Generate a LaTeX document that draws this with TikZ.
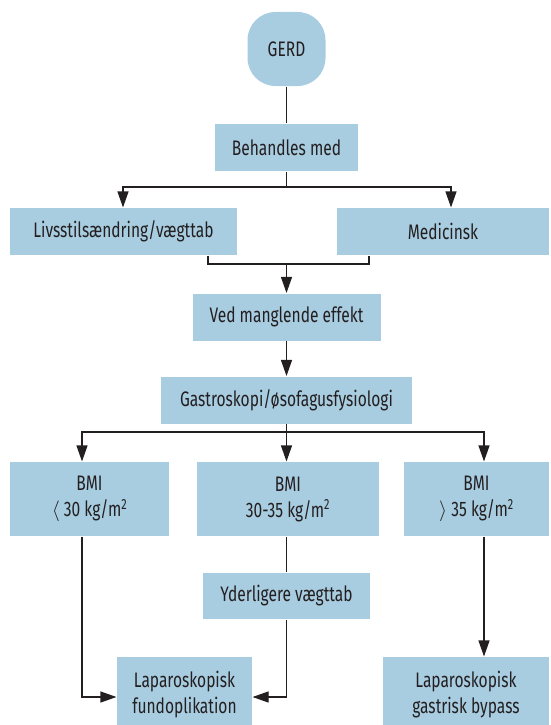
\documentclass[tikz,border=0pt]{standalone}
\usepackage{fontspec}
\setmainfont{Fira Sans}[FakeStretch=0.74]
\usetikzlibrary{arrows.meta,calc}
\definecolor{boxblue}{RGB}{168,204,224}
\definecolor{ink}{RGB}{35,31,32}
\begin{document}
\begin{tikzpicture}[x=1pt,y=-1pt,
  box/.style={fill=boxblue,draw=none,text=ink,inner sep=0pt,align=center,
    font=\fontsize{21}{26}\selectfont},
  arr/.style={-{Triangle[length=16pt,width=11pt]}},
  line width=1.1pt, draw=ink]
\useasboundingbox (0,0) rectangle (550,725);
\def\cx{286.5}
\node[box,rounded corners=28pt,minimum width=78pt,minimum height=74pt] (gerd) at (\cx,49) {GERD};
\node[box,minimum width=143pt,minimum height=47pt] (beh) at (\cx,147.5) {Behandles med};
\node[box,minimum width=227pt,minimum height=47pt] (liv) at (123.5,231.5) {Livsstilsændring/vægttab};
\node[box,minimum width=212pt,minimum height=47pt] (med) at (443,231.5) {Medicinsk};
\node[box,minimum width=188pt,minimum height=47pt] (ved) at (\cx,317) {Ved manglende effekt};
\node[box,minimum width=251pt,minimum height=47pt] (gas) at (\cx,400) {Gastroskopi/øsofagusfysiologi};
\node[box,minimum width=159pt,minimum height=74pt] (bmi1) at (89.5,499) {BMI\\$\langle$ 30 kg/m\textsuperscript{2}};
\node[box,minimum width=182pt,minimum height=74pt] (bmi2) at (288,499) {BMI\\30-35 kg/m\textsuperscript{2}};
\node[box,minimum width=145pt,minimum height=74pt] (bmi3) at (476.5,499) {BMI\\$\rangle$ 35 kg/m\textsuperscript{2}};
\node[box,minimum width=167pt,minimum height=46pt] (yde) at (\cx,596) {Yderligere vægttab};
\node[box,minimum width=135pt,minimum height=76pt] (fundo) at (184.5,695) {Laparoskopisk\\fundoplikation};
\node[box,minimum width=166pt,minimum height=76pt] (bypass) at (466,695) {Laparoskopisk\\gastrisk bypass};
% connectors
\coordinate (b1) at (\cx,187);
\coordinate (m1) at (\cx,264);
\coordinate (g1) at (\cx,432);
\coordinate (x1) at (82,0);
\coordinate (x3) at (484,0);
\draw (gerd) -- (beh);
\draw (beh.south) -- (b1);
\draw[arr] (b1) -| ([xshift=-0.5pt]liv.north);
\draw[arr] (b1) -| ([xshift=8pt]med.north);
\draw ([xshift=84.5pt]liv.south) |- (m1) -| ([xshift=-74pt]med.south);
\draw[arr] (m1) -- (ved.north);
\draw[arr] (ved.south) -- (gas.north);
\draw (gas.south) -- (g1);
\draw[arr] (g1) -| (x1 |- bmi1.north);
\draw[arr] (g1) -- (g1 |- bmi2.north);
\draw[arr] (g1) -| (x3 |- bmi3.north);
\draw (bmi2.south -| yde.north) -- (yde.north);
\draw[arr] (yde.south) |- ([yshift=-2pt]fundo.east);
\draw[arr] (x1 |- bmi1.south) |- ([yshift=-2pt]fundo.west);
\draw[arr] (x3 |- bmi3.south) -- (x3 |- bypass.north);
\end{tikzpicture}
\end{document}
